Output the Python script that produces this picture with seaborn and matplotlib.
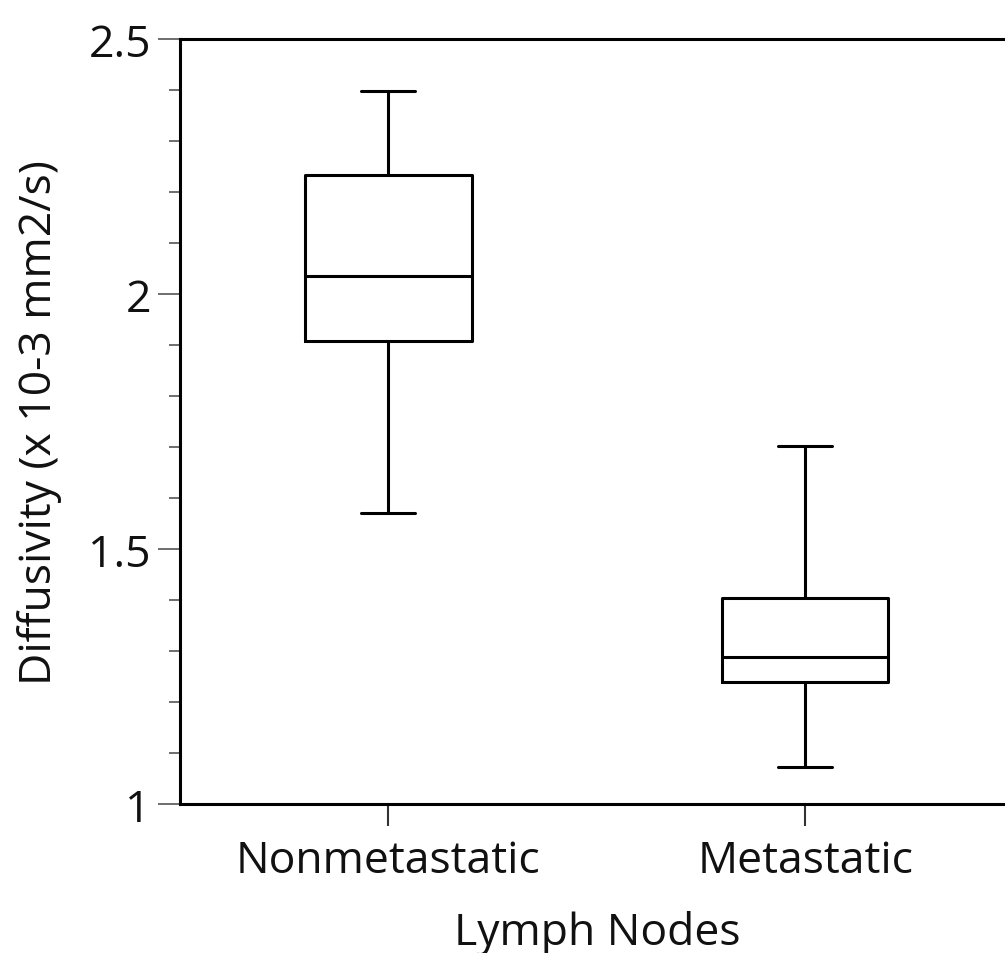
import matplotlib
matplotlib.use("Agg")
import matplotlib.pyplot as plt
import seaborn as sns
import pandas as pd
import numpy as np
from matplotlib.ticker import MultipleLocator

# Five-number summaries (min, Q1, median, Q3, max)
categories = ["Nonmetastatic", "Metastatic"]
nonmetastatic = [1.571, 1.908, 2.035, 2.233, 2.398]
metastatic = [1.073, 1.239, 1.288, 1.404, 1.702]

df = pd.DataFrame({
    "group": [categories[0]] * len(nonmetastatic) + [categories[1]] * len(metastatic),
    "value": nonmetastatic + metastatic,
})

sns.set_theme(style="white")
plt.rcParams["font.family"] = ["Open Sans", "DejaVu Sans"]

fig = plt.figure(figsize=(10.05, 9.54), dpi=100)
ax = fig.add_axes([180 / 1005, 1 - 805 / 954, (1013.5 - 180) / 1005, (805 - 40) / 954])

lw = 2.2
sns.boxplot(data=df, x="group", y="value", order=categories, ax=ax,
            whis=(0, 100), width=0.4, fill=False, color="black",
            linewidth=lw, capwidths=0.13, showfliers=False)

ax.set_xlim(-0.5, 1.5)
ax.set_ylim(1, 2.5)
ax.yaxis.set_minor_locator(MultipleLocator(0.1))
ax.set_yticks([1, 1.5, 2, 2.5])
ax.set_yticklabels(["1", "1.5", "2", "2.5"])

for s in ["left", "top", "bottom"]:
    ax.spines[s].set_visible(True)
    ax.spines[s].set_color("black")
    ax.spines[s].set_linewidth(lw)
ax.spines["right"].set_visible(False)

fs = 32
ax.tick_params(axis="y", which="major", direction="out", length=16, width=1.2,
               color="#555555", labelsize=fs, pad=5, left=True)
ax.tick_params(axis="y", which="minor", direction="out", length=8, width=1.2,
               color="#555555", left=True)
ax.tick_params(axis="x", which="major", direction="out", length=16, width=1.5,
               color="#333333", labelsize=fs, pad=9, bottom=True)
for lab in ax.get_xticklabels() + ax.get_yticklabels():
    lab.set_color("#111111")

ax.set_xlabel("Lymph Nodes", fontsize=fs, labelpad=19, color="#111111")
ax.set_ylabel("Diffusivity (x 10-3 mm2/s)", fontsize=fs, labelpad=19, color="#111111")

fig.savefig("out.png", dpi=100)
